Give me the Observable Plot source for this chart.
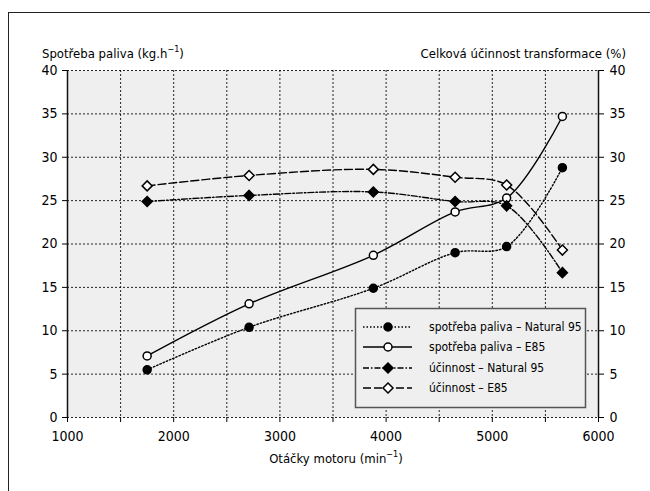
<!DOCTYPE html>
<html>
<head>
<meta charset="utf-8">
<script src="https://cdn.jsdelivr.net/npm/d3@7"></script>
<script src="https://cdn.jsdelivr.net/npm/@observablehq/plot@0.6"></script>
<style>
  html, body { margin: 0; padding: 0; background: #fff; }
  #wrap { position: relative; width: 650px; height: 491px; overflow: hidden;
    font-family: "Liberation Sans Narrow", "DejaVu Sans Condensed", "Roboto", sans-serif; color: #000; }
  #frame { position: absolute; left: 8px; top: 12px; width: 700px; height: 600px;
    border-top: 1.5px solid #222; border-left: 1.5px solid #222; }
  .lbl { position: absolute; font-size: 13px; white-space: nowrap; line-height: 1; }
  .lbl sup { font-size: 9px; vertical-align: 6px; line-height: 0; }
  #chart, #legend { position: absolute; left: 0; top: 0; }
  #legend { pointer-events: none; }
</style>
</head>
<body>
<div id="wrap">
  <div id="frame"></div>
  <div id="chart"></div>
  <svg id="legend" width="650" height="491"></svg>
  <div class="lbl" id="ylabL" style="left:42px; top:47px;">Spotřeba paliva (kg.h<sup>−1</sup>)</div>
  <div class="lbl" id="ylabR" style="right:24px; top:47px;">Celková účinnost transformace (%)</div>
  <div class="lbl" id="xlab" style="left:336px; top:452px; transform:translateX(-50%);">Otáčky motoru (min<sup>−1</sup>)</div>
</div>
<script>
// ---- data ----
const rpm = [1750, 2710, 3880, 4650, 5135, 5660];
const fuelNatural = [5.5, 10.4, 14.9, 19.0, 19.7, 28.8];
const fuelE85 = [7.1, 13.1, 18.7, 23.7, 25.3, 34.7];
const effNatural = [24.9, 25.6, 26.0, 24.9, 24.4, 16.7];
const effE85 = [26.7, 27.9, 28.6, 27.7, 26.8, 19.3];
const seriesNames = ["spotřeba paliva – Natural 95", "spotřeba paliva – E85", "účinnost – Natural 95", "účinnost – E85"];
const xTicks = [1000, 2000, 3000, 4000, 5000, 6000];
const yTicks = [0, 5, 10, 15, 20, 25, 30, 35, 40];

// ---- styles per series ----
const styles = [
  {values: fuelNatural, dash: "1.5,2", symbol: "circle", fill: "black", r: 4},
  {values: fuelE85, dash: null, symbol: "circle", fill: "white", r: 4},
  {values: effNatural, dash: "6,2,1.5,2", symbol: "diamond2", fill: "black", r: 4.5},
  {values: effE85, dash: "8,3", symbol: "diamond2", fill: "white", r: 4.5}
];
const tables = styles.map((s, i) => rpm.map((x, j) => ({rpm: x, v: s.values[j], name: seriesNames[i]})));

const fontFam = '"Liberation Sans Narrow", "DejaVu Sans Condensed", Roboto, sans-serif';
const gridStyle = {stroke: "#000", strokeOpacity: 0.85, strokeDasharray: "2,2", strokeWidth: 1};
const marks = [
  Plot.frame({fill: "#eeefee", stroke: null}),
  Plot.gridX(d3.range(1500, 6000, 500), gridStyle),
  Plot.gridY(yTicks, gridStyle),
  Plot.ruleX([1000, 6000], {stroke: "#111", strokeWidth: 1.5}),
  Plot.axisX(d3.range(1000, 6001, 500), {tickSize: 5, tickFormat: () => "", label: null}),
  Plot.axisX(xTicks, {tickSize: 0, tickPadding: 14, tickFormat: d3.format("d"), label: null}),
  Plot.axisY(yTicks, {anchor: "left", tickSize: 5, tickPadding: 5, label: null}),
  Plot.axisY(yTicks, {anchor: "right", tickSize: 5, tickPadding: 6, label: null})
];
styles.forEach((s, i) => {
  marks.push(Plot.line(tables[i], {x: "rpm", y: "v", curve: "catmull-rom", stroke: "#000", strokeWidth: 1.4, strokeDasharray: s.dash}));
});
styles.forEach((s, i) => {
  marks.push(Plot.dot(tables[i], {x: "rpm", y: "v", symbol: () => s.symbol, r: s.r, fill: s.fill, stroke: "#000", strokeWidth: 1.5}));
});

const chart = Plot.plot({
  width: 650,
  height: 491,
  marginLeft: 67,
  marginRight: 52,
  marginTop: 70,
  marginBottom: 74,
  x: {domain: [1000, 6000]},
  y: {domain: [0, 40]},
  symbol: {type: "identity"},
  style: {fontFamily: fontFam, fontSize: "14px", background: "transparent", color: "#000", overflow: "visible"},
  marks
});
document.getElementById("chart").appendChild(chart);

// ---- legend ----
const lg = d3.select("#legend");
lg.append("rect").attr("x", 355.5).attr("y", 308.5).attr("width", 230).attr("height", 99)
  .attr("fill", "#eeefee").attr("stroke", "#555").attr("stroke-width", 1.5);
const rowY = [327, 347, 368, 388];
styles.forEach((s, i) => {
  const y = rowY[i];
  lg.append("line").attr("x1", 363).attr("x2", 412).attr("y1", y).attr("y2", y)
    .attr("stroke", "#000").attr("stroke-width", 1.4).attr("stroke-dasharray", s.dash);
  const sym = s.symbol === "circle" ? d3.symbolCircle : d3.symbolDiamond2;
  lg.append("path").attr("d", d3.symbol(sym, Math.PI * s.r * s.r)())
    .attr("transform", `translate(388,${y})`).attr("fill", s.fill).attr("stroke", "#000").attr("stroke-width", 1.5);
  lg.append("text").attr("x", 429).attr("y", y).attr("dy", "0.35em")
    .attr("font-family", fontFam)
    .attr("font-size", 12).text(seriesNames[i]);
});
</script>
</body>
</html>
